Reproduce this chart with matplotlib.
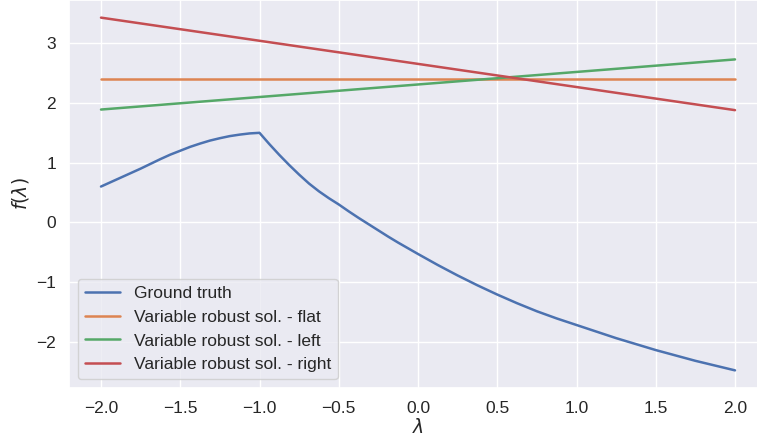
import matplotlib
matplotlib.use("Agg")
import matplotlib.pyplot as plt
import seaborn as sns

sns.set_theme(style="darkgrid")
plt.rcParams['font.family'] = ['Liberation Sans', 'DejaVu Sans']
plt.rcParams['xtick.labelsize'] = 12.5
plt.rcParams['ytick.labelsize'] = 12.5
plt.rcParams['axes.labelsize'] = 13.5
plt.rcParams['legend.fontsize'] = 12.5
plt.rcParams['lines.linewidth'] = 1.8

# Ground truth curve
gt_x = [-2.0, -1.9375, -1.875, -1.8125, -1.75, -1.6875, -1.625, -1.5625,
        -1.5, -1.4375, -1.375, -1.3125, -1.25, -1.1875, -1.125, -1.0625, -1.0,
        -0.9375, -0.875, -0.8125, -0.75, -0.6875, -0.625, -0.5625,
        -0.5, -0.4375, -0.375, -0.3125, -0.25, -0.1875, -0.125, -0.0625, 0.0,
        0.125, 0.25, 0.375, 0.5, 0.625, 0.75, 0.875, 1.0,
        1.125, 1.25, 1.375, 1.5, 1.625, 1.75, 1.875, 2.0]
gt_y = [0.60, 0.675, 0.75, 0.825, 0.90, 0.98, 1.06, 1.135,
        1.20, 1.265, 1.32, 1.37, 1.41, 1.445, 1.47, 1.49, 1.50,
        1.31, 1.13, 0.96, 0.80, 0.65, 0.52, 0.405,
        0.30, 0.185, 0.075, -0.03, -0.135, -0.24, -0.34, -0.435, -0.53,
        -0.715, -0.89, -1.055, -1.21, -1.355, -1.49, -1.61, -1.72,
        -1.83, -1.94, -2.04, -2.14, -2.23, -2.32, -2.40, -2.48]

# Straight robust solutions (endpoints)
line_x = [-2.0, 2.0]
flat_y = [2.40, 2.40]
left_y = [1.89, 2.73]
right_y = [3.43, 1.88]

labels = ["Ground truth", "Variable robust sol. - flat",
          "Variable robust sol. - left", "Variable robust sol. - right"]

fig = plt.figure(figsize=(7.57, 4.43), dpi=100)
ax = fig.add_axes([69.3 / 757, 55 / 443, 697.4 / 757, 388 / 443])

ax.plot(gt_x, gt_y, label=labels[0])
ax.plot(line_x, flat_y, label=labels[1])
ax.plot(line_x, left_y, label=labels[2])
ax.plot(line_x, right_y, label=labels[3])

ax.set_xlabel(r"$\lambda$", labelpad=1)
ax.set_ylabel(r"$f(\lambda)$")
ax.legend(loc="lower left")

fig.savefig("out.png", dpi=100)
